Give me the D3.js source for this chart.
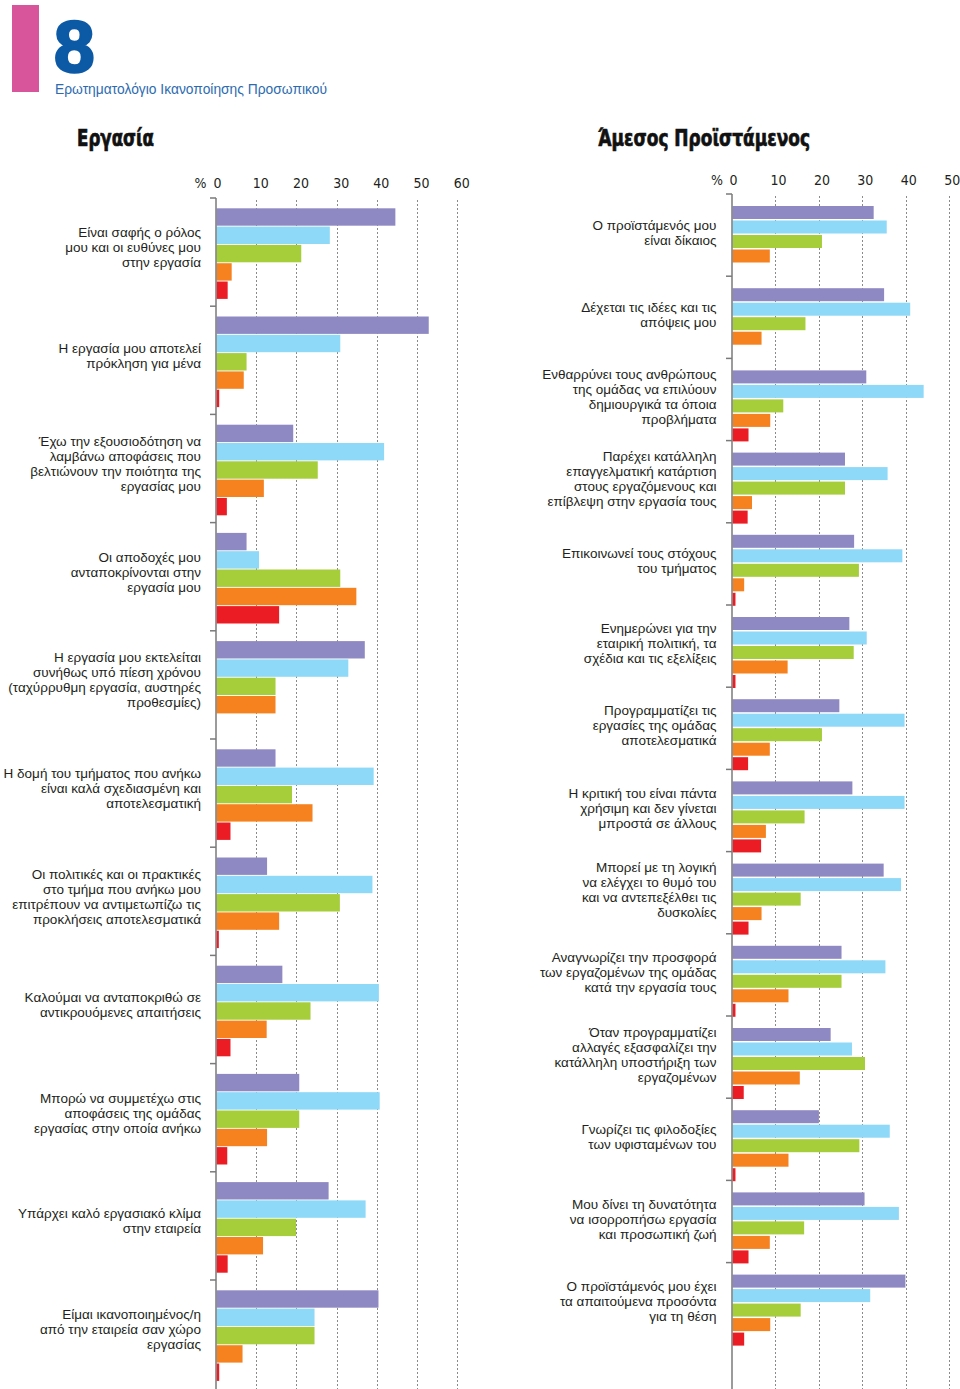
<!DOCTYPE html>
<html><head><meta charset="utf-8">
<script src="https://cdn.jsdelivr.net/npm/d3@7"></script>
<style>
html,body{margin:0;padding:0;background:#fff;}
svg{display:block;}
</style></head>
<body>
<svg id="chart" width="960" height="1389"></svg>
<script>
// ---------- DATA ----------
const seriesNames = ["Σειρά 1","Σειρά 2","Σειρά 3","Σειρά 4","Σειρά 5"];
const seriesColors = ["#8f89c3","#8ed8f8","#a6cd3a","#f6821f","#ec1c24"];

const leftTitle = "Εργασία";
const leftTicks = [0,10,20,30,40,50,60];
const leftCategories = [
  ["Είναι σαφής ο ρόλος","μου και οι ευθύνες μου","στην εργασία"],
  ["Η εργασία μου αποτελεί","πρόκληση για μένα"],
  ["Έχω την εξουσιοδότηση να","λαμβάνω αποφάσεις που","βελτιώνουν την ποιότητα της","εργασίας μου"],
  ["Οι αποδοχές μου","ανταποκρίνονται στην","εργασία μου"],
  ["Η εργασία μου εκτελείται","συνήθως υπό πίεση χρόνου","(ταχύρρυθμη εργασία, αυστηρές","προθεσμίες)"],
  ["Η δομή του τμήματος που ανήκω","είναι καλά σχεδιασμένη και","αποτελεσματική"],
  ["Οι πολιτικές και οι πρακτικές","στο τμήμα που ανήκω μου","επιτρέπουν να αντιμετωπίζω τις","προκλήσεις αποτελεσματικά"],
  ["Καλούμαι να ανταποκριθώ σε","αντικρουόμενες απαιτήσεις"],
  ["Μπορώ να συμμετέχω στις","αποφάσεις της ομάδας","εργασίας στην οποία ανήκω"],
  ["Υπάρχει καλό εργασιακό κλίμα","στην εταιρεία"],
  ["Είμαι ικανοποιημένος/η","από την εταιρεία σαν χώρο","εργασίας"]
];
const leftS1 = [44.6, 52.9, 19.2, 7.6, 37.0, 14.8, 12.7, 16.5, 20.7, 28.0, 40.4];
const leftS2 = [28.3, 30.9, 41.8, 10.7, 32.9, 39.2, 38.9, 40.5, 40.7, 37.2, 24.5];
const leftS3 = [21.2, 7.6, 25.3, 30.9, 14.8, 18.9, 30.8, 23.5, 20.7, 19.9, 24.5];
const leftS4 = [3.9, 6.9, 11.9, 34.9, 14.8, 24.0, 15.7, 12.6, 12.7, 11.7, 6.6];
const leftS5 = [2.9, 0.8, 2.7, 15.7, 0, 3.6, 0.7, 3.6, 2.8, 2.9, 0.8];

const rightTitle = "Άμεσος Προϊστάμενος";
const rightTicks = [0,10,20,30,40,50];
const rightCategories = [
  ["Ο προϊστάμενός μου","είναι δίκαιος"],
  ["Δέχεται τις ιδέες και τις","απόψεις μου"],
  ["Ενθαρρύνει τους ανθρώπους","της ομάδας να επιλύουν","δημιουργικά τα όποια","προβλήματα"],
  ["Παρέχει κατάλληλη","επαγγελματική κατάρτιση","στους εργαζόμενους και","επίβλεψη στην εργασία τους"],
  ["Επικοινωνεί τους στόχους","του τμήματος"],
  ["Ενημερώνει για την","εταιρική πολιτική, τα","σχέδια και τις εξελίξεις"],
  ["Προγραμματίζει τις","εργασίες της ομάδας","αποτελεσματικά"],
  ["Η κριτική του είναι πάντα","χρήσιμη και δεν γίνεται","μπροστά σε άλλους"],
  ["Μπορεί με τη λογική","να ελέγχει το θυμό του","και να αντεπεξέλθει τις","δυσκολίες"],
  ["Αναγνωρίζει την προσφορά","των εργαζομένων της ομάδας","κατά την εργασία τους"],
  ["Όταν προγραμματίζει","αλλαγές εξασφαλίζει την","κατάλληλη υποστήριξη των","εργαζομένων"],
  ["Γνωρίζει τις φιλοδοξίες","των υφισταμένων του"],
  ["Μου δίνει τη δυνατότητα","να ισορροπήσω εργασία","και προσωπική ζωή"],
  ["Ο προϊστάμενός μου έχει","τα απαιτούμενα προσόντα","για τη θέση"]
];
const rightS1 = [32.6, 35.0, 30.9, 26.0, 28.1, 27.0, 24.7, 27.7, 34.9, 25.2, 22.7, 20.0, 30.5, 39.9];
const rightS2 = [35.6, 41.0, 44.1, 35.8, 39.2, 31.0, 39.7, 39.7, 38.9, 35.3, 27.6, 36.3, 38.4, 31.8];
const rightS3 = [20.7, 16.9, 11.8, 26.0, 29.2, 28.0, 20.7, 16.7, 15.8, 25.2, 30.6, 29.3, 16.6, 15.8];
const rightS4 = [8.7, 6.8, 8.8, 4.6, 2.8, 12.8, 8.7, 7.8, 6.8, 13.0, 15.6, 13.0, 8.7, 8.8];
const rightS5 = [0, 0, 3.8, 3.6, 0.8, 0.8, 3.7, 6.7, 3.8, 0.8, 2.7, 0.8, 3.8, 2.8];

const pageNumber = "8";
const pageSubtitle = "Ερωτηματολόγιο Ικανοποίησης Προσωπικού";

// ---------- DRAW ----------
const svg = d3.select("#chart");
const W = 960, H = 1389;
const labelFont = "'Liberation Sans', Arial, Helvetica, sans-serif";
const narrowFont = "'Liberation Sans Narrow', 'DejaVu Sans Condensed', 'Liberation Sans', sans-serif";
const textColor = "#231f20";

// header
svg.append("rect").attr("x",12).attr("y",5).attr("width",27).attr("height",87).attr("fill","#d9559b");
svg.append("text").attr("x",54).attr("y",72).text(pageNumber)
  .attr("font-family",labelFont).attr("font-weight",900).attr("font-size",73)
  .attr("fill","#0c5aa6").attr("stroke","#0c5aa6").attr("stroke-width",2.5);
svg.append("text").attr("x",55).attr("y",94).text(pageSubtitle)
  .attr("font-family",labelFont).attr("font-size",14).attr("fill","#2d6bb0")
  .attr("textLength",272).attr("lengthAdjust","spacingAndGlyphs");

function drawChart(cfg){
  const g = svg.append("g");
  const x = d3.scaleLinear().domain([0, cfg.max]).range([cfg.x0, cfg.x1]);
  const n = cfg.categories.length;
  const y = d3.scaleBand().domain(d3.range(n)).range([cfg.yTop, cfg.yTop + n*cfg.step]).padding(0);
  const yi = d3.scaleBand().domain(d3.range(seriesNames.length))
      .range([cfg.innerTop, cfg.innerTop + cfg.innerSpan]).paddingInner(cfg.innerPad).paddingOuter(0);

  // title
  g.append("text").attr("x",cfg.titleX).attr("y",146).text(cfg.title)
    .attr("font-family",narrowFont).attr("font-weight","bold").attr("font-size",23)
    .attr("fill","#111").attr("stroke","#111").attr("stroke-width",0.7)
    .attr("textLength",cfg.titleLen).attr("lengthAdjust","spacingAndGlyphs");

  // tick labels
  g.append("text").attr("x",cfg.pctX).attr("y",cfg.tickY).text("%")
    .attr("text-anchor","middle").attr("font-family",narrowFont).attr("font-size",14).attr("fill",textColor);
  g.selectAll("text.tick").data(cfg.ticks).enter().append("text")
    .attr("class","tick")
    .attr("x",d => x(d) + (d===0 ? 1.5 : cfg.tickDx)).attr("y",cfg.tickY)
    .attr("text-anchor","middle").attr("font-family",narrowFont).attr("font-size",14).attr("fill",textColor)
    .text(d => d);

  // gridlines
  g.selectAll("line.grid").data(cfg.ticks.filter(d=>d>0)).enter().append("line")
    .attr("x1",d=>Math.round(x(d))+0.5).attr("x2",d=>Math.round(x(d))+0.5)
    .attr("y1",cfg.yTop+2).attr("y2",H)
    .attr("stroke","#8a8a8a").attr("stroke-width",1).attr("stroke-dasharray","2,2");

  // bars
  const rows = [];
  cfg.categories.forEach((c,i)=>{
    cfg.series.forEach((vals,s)=>{ rows.push({i, s, v: vals[i]}); });
  });
  g.selectAll("rect.bar").data(rows.filter(r=>r.v>0)).enter().append("rect")
    .attr("x", x(0)+0.5)
    .attr("y", r => y(r.i) + yi(r.s))
    .attr("width", r => Math.max(0, x(r.v) - x(0) - 0.5))
    .attr("height", yi.bandwidth())
    .attr("fill", r => seriesColors[r.s]);

  // axis line
  g.append("line").attr("x1",x(0)).attr("x2",x(0)).attr("y1",cfg.yTop).attr("y2",H)
    .attr("stroke","#7a7a7a").attr("stroke-width",1.5);
  g.selectAll("line.ytick").data(d3.range(n)).enter().append("line")
    .attr("x1",x(0)-6).attr("x2",x(0)).attr("y1",i=>y(i)).attr("y2",i=>y(i))
    .attr("stroke","#7a7a7a").attr("stroke-width",1.5);

  // category labels
  const lh = 15;
  const lab = g.selectAll("text.cat").data(cfg.categories).enter().append("text")
    .attr("class","cat")
    .attr("font-family",labelFont).attr("font-size",13.5).attr("fill",textColor)
    .attr("text-anchor","end");
  lab.each(function(lines,i){
    const cy = y(i) + y.bandwidth()/2 + cfg.labelShift;
    const top = cy - (lines.length-1)*lh/2 + 5;
    d3.select(this).selectAll("tspan").data(lines).enter().append("tspan")
      .attr("x", cfg.labelX).attr("y",(d,k)=>top + k*lh).text(d=>d);
  });
}

drawChart({
  title: leftTitle, titleX: 77, titleLen: 77, categories: leftCategories,
  series: [leftS1,leftS2,leftS3,leftS4,leftS5],
  ticks: leftTicks, max: 60, x0: 216, x1: 457.3,
  yTop: 198, step: 108.2, innerTop: 10.3, innerSpan: 90.6, innerPad: 0.05,
  pctX: 200.5, tickY: 188, tickDx: 4.5, labelX: 201, labelShift: -5
});
drawChart({
  title: rightTitle, titleX: 598, titleLen: 212, categories: rightCategories,
  series: [rightS1,rightS2,rightS3,rightS4,rightS5],
  ticks: rightTicks, max: 50, x0: 732, x1: 949.3,
  yTop: 194, step: 82.2, innerTop: 12, innerSpan: 71, innerPad: 0.103,
  pctX: 717, tickY: 185, tickDx: 3, labelX: 716.5, labelShift: -3
});
</script>
</body></html>
